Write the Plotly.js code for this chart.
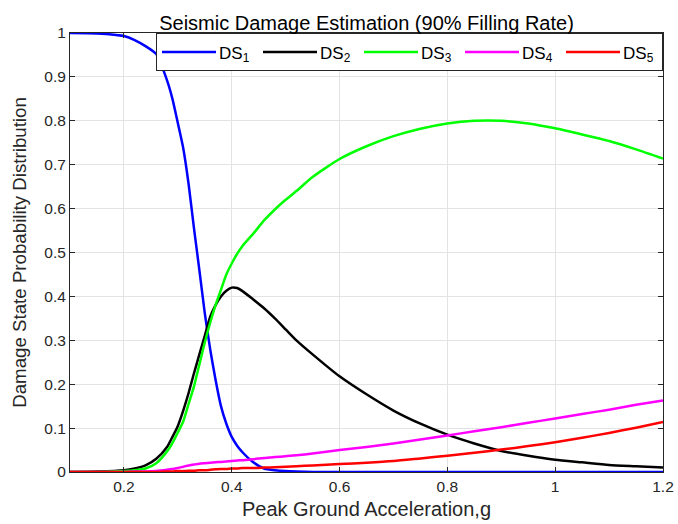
<!DOCTYPE html>
<html>
<head>
<meta charset="utf-8">
<script src="https://cdn.plot.ly/plotly-3.0.1.min.js"></script>
<style>
  html, body { margin: 0; padding: 0; background: #ffffff; }
  #chart { width: 678px; height: 524px; }
</style>
</head>
<body>
<div id="chart"></div>
<script>
// Peak ground acceleration (g) at which each probability was evaluated
const pga = [0.10, 0.15, 0.20, 0.22, 0.24, 0.26, 0.28, 0.29, 0.30, 0.31, 0.32, 0.33, 0.34, 0.35,
             0.36, 0.37, 0.38, 0.39, 0.40, 0.41, 0.42, 0.44, 0.46, 0.48, 0.50, 0.52, 0.55,
             0.60, 0.65, 0.70, 0.75, 0.80, 0.85, 0.90, 0.95, 1.00, 1.05, 1.10, 1.15, 1.20];

// Damage state probabilities
const ds1 = [1.000, 0.999, 0.993, 0.984, 0.970, 0.952, 0.892, 0.850, 0.795, 0.738, 0.656, 0.555, 0.460, 0.362,
             0.280, 0.210, 0.150, 0.110, 0.080, 0.060, 0.045, 0.022, 0.008, 0.004, 0.002, 0.001, 0.000,
             0.000, 0.000, 0.000, 0.000, 0.000, 0.000, 0.000, 0.000, 0.000, 0.000, 0.000, 0.000, 0.000];
const ds2 = [0.000, 0.001, 0.004, 0.008, 0.015, 0.030, 0.057, 0.080, 0.105, 0.140, 0.180, 0.225, 0.268, 0.310,
             0.353, 0.380, 0.400, 0.413, 0.420, 0.419, 0.412, 0.393, 0.373, 0.350, 0.325, 0.300, 0.268,
             0.218, 0.177, 0.140, 0.110, 0.085, 0.065, 0.048, 0.037, 0.028, 0.022, 0.016, 0.013, 0.010];
const ds3 = [0.000, 0.000, 0.002, 0.004, 0.008, 0.020, 0.047, 0.066, 0.090, 0.115, 0.155, 0.195, 0.245, 0.295,
             0.340, 0.380, 0.415, 0.450, 0.475, 0.497, 0.515, 0.543, 0.573, 0.598, 0.620, 0.640, 0.672,
             0.713, 0.742, 0.765, 0.782, 0.794, 0.800, 0.800, 0.794, 0.783, 0.769, 0.754, 0.735, 0.714];
const ds4 = [0.000, 0.000, 0.000, 0.001, 0.001, 0.002, 0.005, 0.007, 0.009, 0.012, 0.015, 0.017, 0.019, 0.020,
             0.021, 0.022, 0.023, 0.024, 0.025, 0.026, 0.027, 0.029, 0.032, 0.034, 0.036, 0.038, 0.042,
             0.050, 0.057, 0.065, 0.074, 0.083, 0.093, 0.102, 0.112, 0.122, 0.132, 0.142, 0.153, 0.163];
const ds5 = [0.000, 0.000, 0.000, 0.000, 0.000, 0.000, 0.001, 0.001, 0.002, 0.002, 0.003, 0.003, 0.004, 0.004,
             0.005, 0.006, 0.007, 0.007, 0.008, 0.008, 0.009, 0.009, 0.010, 0.011, 0.012, 0.013, 0.015,
             0.018, 0.021, 0.025, 0.031, 0.037, 0.044, 0.051, 0.059, 0.068, 0.078, 0.089, 0.101, 0.114];

const seriesNames = ['DS<sub>1</sub>', 'DS<sub>2</sub>', 'DS<sub>3</sub>', 'DS<sub>4</sub>', 'DS<sub>5</sub>'];
const seriesValues = [ds1, ds2, ds3, ds4, ds5];
const seriesColors = ['#0000ff', '#000000', '#00ff00', '#ff00ff', '#ff0000'];

const xTickVals = [0.2, 0.4, 0.6, 0.8, 1.0, 1.2];
const xTickText = ['0.2', '0.4', '0.6', '0.8', '1', '1.2'];
const yTickVals = [0, 0.1, 0.2, 0.3, 0.4, 0.5, 0.6, 0.7, 0.8, 0.9, 1];
const yTickText = ['0', '0.1', '0.2', '0.3', '0.4', '0.5', '0.6', '0.7', '0.8', '0.9', '1'];

const FONT = 'Arial, "Liberation Sans", Helvetica, sans-serif';
const LEGEND_LINE = 54;   // length of the legend sample lines, px

const traces = seriesValues.map((vals, i) => ({
  type: 'scatter',
  mode: 'lines',
  x: pga,
  y: vals,
  name: seriesNames[i],
  line: { color: seriesColors[i], width: 2.5, shape: 'spline', smoothing: 0.6 }
}));

const axisCommon = {
  showline: true,
  linecolor: '#262626',
  linewidth: 1,
  mirror: 'ticks',
  ticks: 'inside',
  ticklen: 5,
  tickwidth: 1,
  tickcolor: '#262626',
  showgrid: true,
  gridcolor: '#e3e3e3',
  gridwidth: 1,
  zeroline: false,
  tickfont: { family: FONT, size: 15.5, color: '#262626' }
};

const layout = {
  width: 678,
  height: 524,
  paper_bgcolor: '#ffffff',
  plot_bgcolor: '#ffffff',
  margin: { l: 69.5, r: 14.5, t: 32.7, b: 52.3, pad: 0 },
  showlegend: true,
  title: {
    text: 'Seismic Damage Estimation (90% Filling Rate)',
    font: { family: FONT, size: 20, color: '#000000' },
    x: 0.5, xanchor: 'center', xref: 'paper',
    y: 1 - 23 / 524, yref: 'container', yanchor: 'middle'
  },
  xaxis: Object.assign({}, axisCommon, {
    range: [0.1, 1.2],
    tickvals: xTickVals,
    ticktext: xTickText,
    title: { text: 'Peak Ground Acceleration,g', font: { family: FONT, size: 20, color: '#262626' }, standoff: 8 }
  }),
  yaxis: Object.assign({}, axisCommon, {
    range: [0, 1],
    tickvals: yTickVals,
    ticktext: yTickText,
    title: { text: 'Damage State Probability Distribution', font: { family: FONT, size: 18.7, color: '#262626' }, standoff: 12 }
  }),
  legend: {
    orientation: 'h',
    x: 1, xanchor: 'right',
    y: 0.999, yanchor: 'top',
    bgcolor: '#ffffff',
    bordercolor: '#262626',
    borderwidth: 1,
    font: { family: FONT, size: 17, color: '#000000' },
    entrywidth: 34,
    entrywidthmode: 'pixels',
    itemwidth: 52
  }
};

Plotly.newPlot('chart', traces, layout, { staticPlot: true, displayModeBar: false }).then(gd => {
  // stretch the legend sample lines to fill the symbol slot
  gd.querySelectorAll('.legend .legendlines path').forEach(p => {
    p.setAttribute('d', 'M5,0h' + LEGEND_LINE);
  });
});
</script>
</body>
</html>
